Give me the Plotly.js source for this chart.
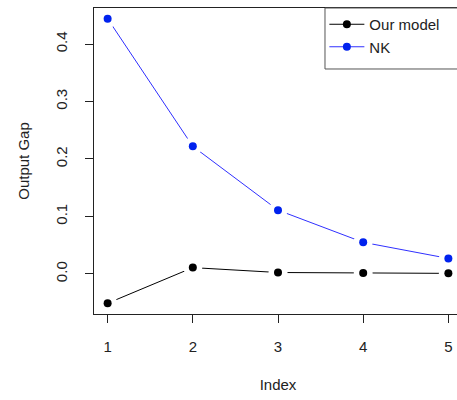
<!DOCTYPE html>
<html>
<head>
<meta charset="utf-8">
<script src="https://cdn.plot.ly/plotly-3.0.1.min.js"></script>
<style>
  html, body { margin: 0; padding: 0; background: #fff; overflow: hidden; }
  #chart { width: 470px; height: 400px; }
</style>
</head>
<body>
<div id="chart"></div>
<script>
// Impulse of the output gap over five periods, two models
const periods = [1, 2, 3, 4, 5];
const ourModel = [-0.051, 0.011, 0.0025, 0.0015, 0.001];
const nkModel = [0.444, 0.222, 0.111, 0.055, 0.027];
const yTicks = [0.0, 0.1, 0.2, 0.3, 0.4];
const xTicks = [1, 2, 3, 4, 5];

const FONT = "Liberation Sans, Arial, sans-serif";
const ink = "#222";

// lines (with legend entries), then white halos that open gaps in the lines
// around each point, then the points themselves on top
const traces = [
  { x: periods, y: ourModel, name: "Our model", mode: "lines+markers",
    line: { color: "black", width: 1 },
    marker: { color: "black", size: 8 } },
  { x: periods, y: nkModel, name: "NK", mode: "lines+markers",
    line: { color: "#3030ff", width: 1 },
    marker: { color: "#0022ee", size: 8 } },
  { x: periods.concat(periods), y: ourModel.concat(nkModel), mode: "markers",
    showlegend: false, hoverinfo: "skip",
    marker: { color: "white", size: 19 } },
  { x: periods, y: ourModel, mode: "markers", showlegend: false,
    marker: { color: "black", size: 8 } },
  { x: periods, y: nkModel, mode: "markers", showlegend: false,
    marker: { color: "#0022ee", size: 8 } }
];

const layout = {
  width: 470, height: 400,
  margin: { l: 94, r: 8, t: 8, b: 86 },
  paper_bgcolor: "white", plot_bgcolor: "white",
  font: { family: FONT, size: 15, color: ink },
  showlegend: true,
  legend: {
    x: 0.626, y: 1.0, xanchor: "left", yanchor: "top",
    bgcolor: "rgba(0,0,0,0)", borderwidth: 0,
    font: { family: FONT, size: 15, color: ink },
    itemwidth: 35,
    tracegroupgap: 0
  },
  shapes: [
    { type: "rect", xref: "paper", yref: "paper",
      x0: 0.6277, x1: 1.0, y0: 0.8007, y1: 1.0,
      line: { color: "#555", width: 1 }, fillcolor: "rgba(0,0,0,0)" }
  ],
  xaxis: {
    range: [0.84, 5.16], tickvals: xTicks, ticktext: xTicks.map(String),
    showgrid: false, zeroline: false,
    showline: true, mirror: true, linecolor: ink, linewidth: 1,
    ticks: "outside", ticklen: 8, tickcolor: ink, tickwidth: 1,
    ticklabelstandoff: 11,
    title: { text: "Index", standoff: 25, font: { family: FONT, size: 15, color: ink } },
    automargin: false
  },
  yaxis: {
    range: [-0.0697, 0.4627], tickvals: yTicks, ticktext: yTicks.map(v => v.toFixed(1)),
    tickangle: -90,
    showgrid: false, zeroline: false,
    showline: true, mirror: true, linecolor: ink, linewidth: 1,
    ticks: "outside", ticklen: 8, tickcolor: ink, tickwidth: 1,
    ticklabelstandoff: 12,
    title: { text: "Output Gap", standoff: 19, font: { family: FONT, size: 15, color: ink } },
    automargin: false
  }
};

Plotly.newPlot("chart", traces, layout, { displayModeBar: false, staticPlot: true });
</script>
</body>
</html>
